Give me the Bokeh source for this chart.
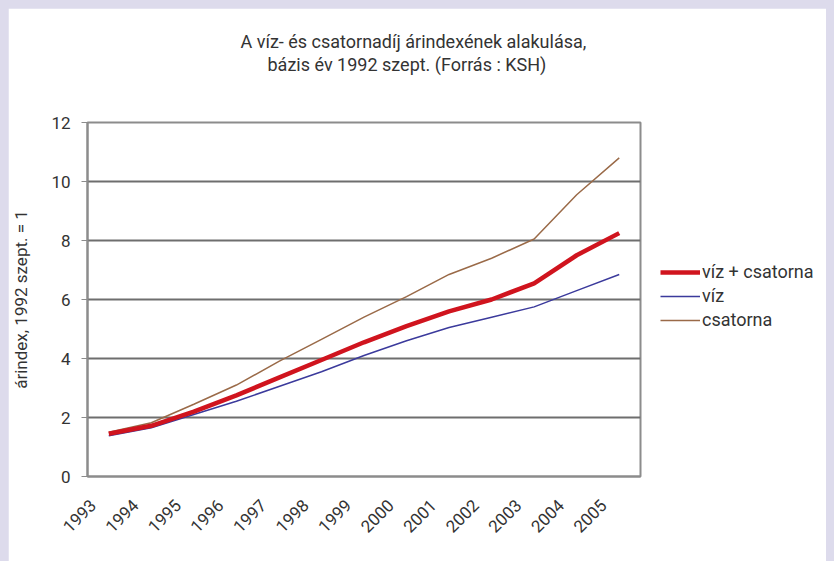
from bokeh.plotting import figure
from bokeh.models import (Range1d, FixedTicker, Legend, LegendItem, Title,
                          GlobalInlineStyleSheet, CustomJSTickFormatter)
from bokeh.embed import file_html
from bokeh.resources import INLINE

years = [1993, 1994, 1995, 1996, 1997, 1998, 1999, 2000, 2001, 2002, 2003, 2004, 2005]
viz_csatorna = [1.45, 1.72, 2.2, 2.75, 3.35, 3.95, 4.55, 5.1, 5.6, 6.0, 6.55, 7.5, 8.25]
viz = [1.38, 1.65, 2.1, 2.55, 3.05, 3.55, 4.1, 4.6, 5.05, 5.4, 5.75, 6.3, 6.85]
csatorna = [1.5, 1.82, 2.45, 3.1, 3.9, 4.65, 5.4, 6.1, 6.85, 7.4, 8.05, 9.55, 10.8]
y_ticks = [0, 2, 4, 6, 8, 10, 12]

title1 = "A víz- és csatornadíj árindexének alakulása,"
title2 = "bázis év 1992 szept. (Forrás : KSH)"
y_label = "árindex, 1992 szept. = 1"
names = ["víz + csatorna", "víz", "csatorna"]

FONT = "Roboto"
TXT = "#333333"
GRID = "#6e6e6e"
LABEL_SHIFT = 0.37  # year labels sit slightly left of the category centre

p = figure(frame_width=553, frame_height=354, output_backend="svg", toolbar_location=None,
           x_range=Range1d(years[0] - 0.5, years[-1] + 0.5), y_range=Range1d(0, 12),
           min_border_left=79, min_border_right=186, min_border_top=114, min_border_bottom=85)
p.stylesheets = [GlobalInlineStyleSheet(
    css="html, body { overflow: hidden; } body { background-color: #dddbec; margin: 8px 8px 0 8px; }")]
p.background_fill_color = "white"
p.border_fill_color = "white"
p.outline_line_color = "#8c8c8c"
p.outline_line_width = 2

# y axis
p.yaxis.ticker = FixedTicker(ticks=y_ticks)
p.yaxis.axis_label = y_label
p.yaxis.axis_label_text_font = FONT
p.yaxis.axis_label_text_font_style = "normal"
p.yaxis.axis_label_text_font_size = "17px"
p.yaxis.axis_label_text_color = TXT
p.yaxis.axis_label_standoff = 17
p.yaxis.major_label_text_font = FONT
p.yaxis.major_label_text_font_size = "17px"
p.yaxis.major_label_text_color = TXT
p.yaxis.major_label_standoff = 11
p.yaxis.axis_line_color = "#8c8c8c"
p.yaxis.axis_line_width = 2
p.yaxis.major_tick_line_color = "#8c8c8c"
p.yaxis.major_tick_out = 6
p.yaxis.major_tick_in = 0
p.yaxis.minor_tick_line_color = None

# x axis: year labels near category centres
p.xaxis.ticker = FixedTicker(ticks=[y - LABEL_SHIFT for y in years])
p.xaxis.formatter = CustomJSTickFormatter(args=dict(shift=LABEL_SHIFT),
                                          code="return Math.round(tick + shift).toString();")
p.xaxis.major_label_orientation = 0.785
p.xaxis.major_label_text_font = FONT
p.xaxis.major_label_text_font_size = "17px"
p.xaxis.major_label_text_color = TXT
p.xaxis.major_label_standoff = 26
p.xaxis.major_tick_line_color = None
p.xaxis.major_tick_out = 0
p.xaxis.major_tick_in = 0
p.xaxis.minor_tick_line_color = None
p.xaxis.axis_line_color = "#8c8c8c"
p.xaxis.axis_line_width = 2

p.xgrid.grid_line_color = None
p.ygrid.ticker = FixedTicker(ticks=y_ticks)
p.ygrid.grid_line_color = GRID
p.ygrid.grid_line_width = 2

r_sum = p.line(years, viz_csatorna, line_color="#d0141e", line_width=4.5)
r_viz = p.line(years, viz, line_color="#3b3a9c", line_width=1.5)
r_cs = p.line(years, csatorna, line_color="#9a6a48", line_width=1.5)
p.renderers = [r_cs, r_viz, r_sum]

legend = Legend(items=[LegendItem(label=names[0], renderers=[r_sum]),
                       LegendItem(label=names[1], renderers=[r_viz]),
                       LegendItem(label=names[2], renderers=[r_cs])],
                location=(20, 146), orientation="vertical",
                background_fill_alpha=0, border_line_color=None,
                padding=0, margin=0, spacing=3, label_height=20, glyph_height=20,
                glyph_width=40, label_standoff=2,
                label_text_font=FONT, label_text_font_size="18px", label_text_color=TXT)
p.add_layout(legend, "right")

# titles: stacked outward from the frame (spacer first, then line 2, then line 1)
p.add_layout(Title(text=" ", standoff=25, text_font=FONT, text_font_size="18px"), "above")
p.add_layout(Title(text=title2, align="left", offset=180, text_font=FONT,
                   text_font_size="18px", text_font_style="normal", text_color=TXT,
                   standoff=0), "above")
p.add_layout(Title(text=title1, align="left", offset=153, text_font=FONT,
                   text_font_size="18px", text_font_style="normal", text_color=TXT,
                   standoff=0), "above")

open("out.html", "w").write(file_html(p, INLINE))
